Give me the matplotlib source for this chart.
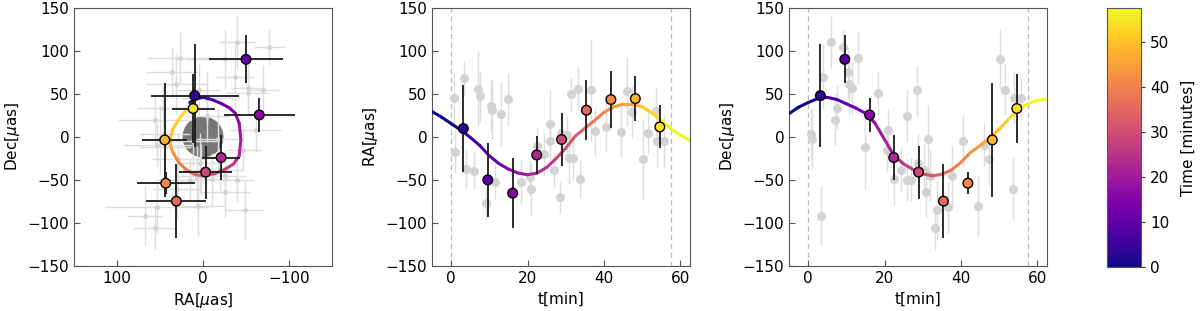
import numpy as np
import matplotlib
matplotlib.use('Agg')
import matplotlib.pyplot as plt
from matplotlib.collections import LineCollection
from matplotlib.patches import Circle


# single epochs (grey): time [min], RA, RA err, Dec, Dec err [uas]
obs_t = [0.8, 1.0, 3.3, 3.8, 6.0, 7.1, 7.6, 9.1, 10.4, 10.6, 11.6, 13.0, 15.0, 18.2,
         20.6, 20.8, 22.6, 24.3, 25.8, 26.0, 26.9, 28.6, 28.8, 30.4, 30.9, 31.3, 32.0,
         33.3, 33.6, 36.7, 37.7, 40.5, 44.4, 46.0, 47.2, 50.3, 51.4, 53.5, 53.9, 55.7]
obs_ra = [45, -17, 68, -37, -40, 56, 47, -77, 36, 31, -52, 27, 44, -52,
          -47, -61, -10, -20, -5, 15, -39, -70, 4, 2, -25, 50, -25,
          56, -49, 54, 7, 12, 6, 53, 29, -26, 5, 30, -5, -5]
obs_ra_err = [30, 25, 20, 22, 22, 43, 30, 18, 30, 35, 20, 38, 30, 25,
              20, 30, 20, 25, 25, 40, 20, 18, 25, 22, 30, 20, 25,
              25, 22, 60, 28, 30, 30, 40, 30, 46, 25, 28, 30, 30]
obs_dec = [3, -2, -92, 70, 110, 20, 34, 104, 75, 61, 57, 92, -12, 51,
           -15, 8, -49, -38, 24, -50, -50, 54, -30, -38, -64, -3, -45,
           -106, -85, -82, -46, -5, -80, -9, -26, 91, 55, -60, 45, 45]
obs_dec_err = [30, 35, 35, 38, 30, 30, 25, 20, 30, 35, 30, 30, 48, 25,
               25, 25, 30, 25, 30, 25, 25, 30, 35, 30, 30, 40, 30,
               25, 35, 30, 35, 30, 35, 25, 30, 35, 30, 35, 30, 25]

# binned points (coloured)
bin_t = [3.2, 9.6, 16.1, 22.4, 28.9, 35.4, 41.8, 48.2, 54.6]
bin_ra = [9.7, -50, -65.4, -21, -3, 31, 43.4, 44.5, 11.6]
bin_ra_err = [51, 43, 41, 22, 31, 35, 33.5, 26, 25]
bin_dec = [48, 90.2, 25.5, -24, -41, -74.7, -53.8, -3.5, 33]
bin_dec_err = [60, 28, 20, 26, 31, 43, 13, 66, 40]

# model curve
model_t = [-5, -2.5, 0, 2.5, 5, 7.5, 10, 12.5, 15, 17.5, 20, 22.5, 25, 27.5,
           30, 32.5, 35, 37.5, 40, 42.5, 45, 47.5, 50, 52.5, 55, 57.5, 60, 62.5]
model_ra = [29.5, 23, 15.5, 8, -0.5, -10, -22, -31, -37.5, -42, -44, -42, -35.5, -25,
            -13, 1, 10, 19, 28.5, 35, 38, 38, 35, 28, 19, 9.5, 2, -4]
model_dec = [27, 34.5, 40, 44.5, 46, 43.5, 38.5, 33.5, 27.5, 16, -3, -22, -31.5, -38,
             -43, -45.3, -43.5, -38.5, -29.5, -18, -10, -1.5, 9, 21, 32, 38.5, 42.5, 44]

T_ORBIT = 57.6
cmap = plt.colormaps['plasma']
norm = plt.Normalize(0, T_ORBIT)

GREY_PT = '#d3d3d3'
GREY_ERR = '#dedede'
SPINE = '#555555'
FS = 11


def colour_line(ax, x, y, t, lw=2.2):
    pts = np.column_stack([x, y]).reshape(-1, 1, 2)
    segs = np.concatenate([pts[:-1], pts[1:]], axis=1)
    tm = 0.5 * (np.asarray(t[:-1]) + np.asarray(t[1:]))
    lc = LineCollection(segs, cmap=cmap, norm=norm, linewidths=lw,
                        capstyle='round', joinstyle='round', zorder=3)
    lc.set_array(tm)
    ax.add_collection(lc)


def style(ax):
    ax.tick_params(direction='in', labelsize=FS, length=4, color=SPINE)
    for s in ax.spines.values():
        s.set_color(SPINE)


fig = plt.figure(figsize=(12, 3.11), dpi=100)
ax0 = fig.add_axes([0.0617, 0.145, 0.215, 0.8296])
ax1 = fig.add_axes([0.36, 0.145, 0.215, 0.8296])
ax2 = fig.add_axes([0.6575, 0.145, 0.215, 0.8296])
cax = fig.add_axes([0.9225, 0.1415, 0.0283, 0.833])

# --- sky plane ---
ax0.add_patch(Circle((0, 0), 23, color='#777777', zorder=0))
ax0.errorbar(obs_ra, obs_dec, xerr=obs_ra_err, yerr=obs_dec_err, fmt='o',
             ms=2.5, color=GREY_PT, ecolor=GREY_ERR, elinewidth=1, zorder=1)
ring = [(t, r, d) for t, r, d in zip(model_t, model_ra, model_dec) if 0 <= t <= T_ORBIT]
rt, rr, rd = zip(*ring)
colour_line(ax0, rr, rd, rt, lw=2.2)
ax0.errorbar(bin_ra, bin_dec, xerr=bin_ra_err, yerr=bin_dec_err, fmt='none',
             ecolor='#1a1a1a', elinewidth=1.3, zorder=4)
ax0.scatter(bin_ra, bin_dec, c=bin_t, cmap=cmap, norm=norm, s=48,
            edgecolors='black', linewidths=1, zorder=5)
ax0.set_xlim(150, -150)
ax0.set_ylim(-150, 150)
ax0.set_xticks([100, 0, -100])
ax0.set_yticks([-150, -100, -50, 0, 50, 100, 150])
ax0.set_xlabel(r'RA[$\mu$as]', fontsize=FS)
ax0.set_ylabel(r'Dec[$\mu$as]', fontsize=FS)
style(ax0)

# --- time series ---
for ax, vals, errs, mvals, bvals, berrs, lab in [
        (ax1, obs_ra, obs_ra_err, model_ra, bin_ra, bin_ra_err, r'RA[$\mu$as]'),
        (ax2, obs_dec, obs_dec_err, model_dec, bin_dec, bin_dec_err, r'Dec[$\mu$as]')]:
    for xv in (0, T_ORBIT):
        ax.axvline(xv, color='#bbbbbb', lw=0.9, ls=(0, (4, 3)), zorder=0)
    ax.errorbar(obs_t, vals, yerr=errs, fmt='o', ms=5.5, color=GREY_PT,
                ecolor=GREY_ERR, elinewidth=1, zorder=1)
    colour_line(ax, model_t, mvals, model_t, lw=2.2)
    ax.errorbar(bin_t, bvals, yerr=berrs, fmt='none', ecolor='#1a1a1a',
                elinewidth=1.3, zorder=4)
    ax.scatter(bin_t, bvals, c=bin_t, cmap=cmap, norm=norm, s=48,
               edgecolors='black', linewidths=1, zorder=5)
    ax.set_xlim(-5, 62.5)
    ax.set_ylim(-150, 150)
    ax.set_xticks([0, 20, 40, 60])
    ax.set_yticks([-150, -100, -50, 0, 50, 100, 150])
    ax.set_xlabel('t[min]', fontsize=FS)
    ax.set_ylabel(lab, fontsize=FS)
    style(ax)

cb = fig.colorbar(plt.cm.ScalarMappable(norm=norm, cmap=cmap), cax=cax)
cb.set_ticks([0, 10, 20, 30, 40, 50])
cb.ax.tick_params(labelsize=FS, length=3, color='#333333')
cb.outline.set_edgecolor(SPINE)
cb.set_label('Time [minutes]', fontsize=FS, labelpad=8)

fig.savefig('out.png', dpi=100)
